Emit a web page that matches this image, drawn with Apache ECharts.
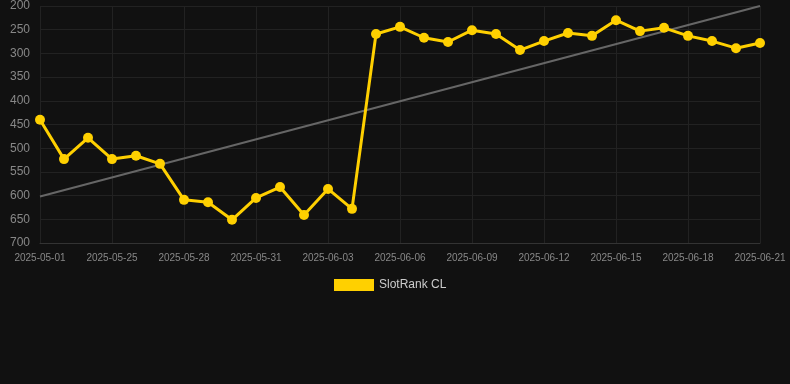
<!DOCTYPE html>
<html>
<head>
<meta charset="utf-8">
<script src="https://cdn.jsdelivr.net/npm/echarts@6/dist/echarts.min.js"></script>
<style>
html,body{margin:0;padding:0;background:#111111;}
#c{width:790px;height:384px;}
</style>
</head>
<body>
<div id="c"></div>
<script>
const categories = ['2025-05-01','2025-05-23','2025-05-24','2025-05-25','2025-05-26','2025-05-27','2025-05-28','2025-05-29','2025-05-30','2025-05-31','2025-06-01','2025-06-02','2025-06-03','2025-06-04','2025-06-05','2025-06-06','2025-06-07','2025-06-08','2025-06-09','2025-06-10','2025-06-11','2025-06-12','2025-06-13','2025-06-14','2025-06-15','2025-06-16','2025-06-17','2025-06-18','2025-06-19','2025-06-20','2025-06-21'];
const rankValues = [440,523,478,523,516,533,609,614,651,605,582,641,586,628,259,244,267,276,251,259,293,274,257,263,230,253,246,263,274,289,278];
const trendStart = 602;
const trendEnd = 200;
const yTicks = {min:200, max:700, interval:50};

const trendData = categories.map((c,i)=> i===0 ? trendStart : (i===categories.length-1 ? trendEnd : null));

const chart = echarts.init(document.getElementById('c'));
chart.setOption({
  backgroundColor:'#111111',
  animation:false,
  grid:{left:40,right:30,top:6,bottom:141},
  legend:{
    data:['SlotRank CL'],
    top:274,
    left:329,
    itemWidth:40,itemHeight:12,
    icon:'rect',
    textStyle:{color:'#cccccc',fontSize:12,fontFamily:'Liberation Sans, Arial, sans-serif'}
  },
  xAxis:{
    type:'category',
    data:categories,
    boundaryGap:false,
    axisLine:{lineStyle:{color:'#333333'}},
    axisTick:{show:false},
    axisLabel:{color:'#888888',fontSize:10,interval:2,margin:10,fontFamily:'Liberation Sans, Arial, sans-serif'},
    splitLine:{show:true,interval:2,lineStyle:{color:'#222222'}}
  },
  yAxis:{
    type:'value',
    inverse:true,
    min:yTicks.min,max:yTicks.max,interval:yTicks.interval,
    axisLine:{show:false},
    axisTick:{show:false},
    axisLabel:{color:'#888888',fontSize:12,margin:10,fontFamily:'Liberation Sans, Arial, sans-serif'},
    splitLine:{lineStyle:{color:'#222222'}}
  },
  series:[
    {
      name:'Trend',
      type:'line',
      data:trendData,
      connectNulls:true,
      symbol:'none',
      lineStyle:{color:'#666666',width:2},
      silent:true,
      z:1
    },
    {
      name:'SlotRank CL',
      type:'line',
      data:rankValues,
      symbol:'circle',
      symbolSize:10,
      itemStyle:{color:'#FFD000'},
      lineStyle:{color:'#FFD000',width:3},
      z:2
    }
  ]
});
</script>
</body>
</html>
